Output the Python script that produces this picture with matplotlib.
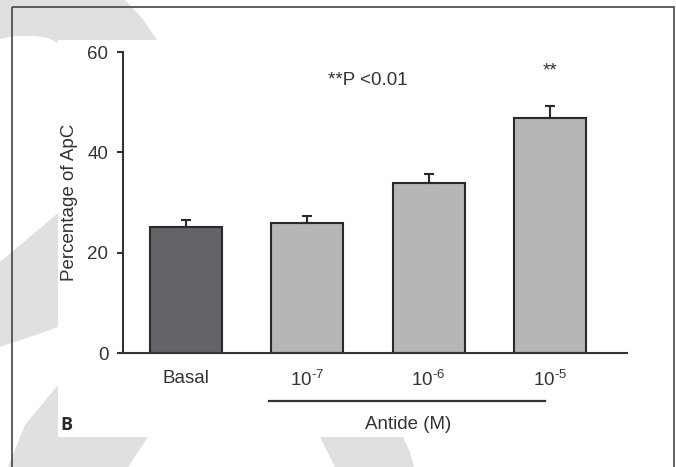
import numpy as np
import matplotlib
matplotlib.use('Agg')
import matplotlib.pyplot as plt
from matplotlib.patches import Polygon, Rectangle
from matplotlib.transforms import blended_transform_factory

plt.rcParams['font.family'] = ['Liberation Sans', 'DejaVu Sans']
plt.rcParams['mathtext.fontset'] = 'custom'
plt.rcParams['mathtext.rm'] = 'Liberation Sans'
plt.rcParams['mathtext.it'] = 'Liberation Sans:italic'

# data
groups = ['Basal', '$\\mathregular{10^{\u20107}}$', '$\\mathregular{10^{\u20106}}$', '$\\mathregular{10^{\u20105}}$']
values = [25.1, 25.9, 33.8, 46.9]
errors = [1.4, 1.4, 1.9, 2.4]
colors = ['#636468', '#b5b6b8', '#b5b6b8', '#b5b6b8']
yticks = [0, 20, 40, 60]

txt = '#333333'
fs = 13.5
W, H = 676, 467
fig = plt.figure(figsize=(W / 100, H / 100), dpi=100)

# background decoration (watermark shapes + frame), pixel coordinates
bg = fig.add_axes([0, 0, 1, 1], zorder=-1)
bg.set_xlim(0, W)
bg.set_ylim(H, 0)
bg.axis('off')
shade = '#dfe0e2'
shapes = [
    [(0, 0), (125, 0), (142, 18), (157, 40), (58, 40), (58, 43), (48, 38), (35, 36), (15, 36), (0, 39)],
    [(0, 262), (58, 213), (58, 327), (30, 337), (0, 347)],
    [(58, 385), (58, 437), (148, 437), (128, 467), (8, 467), (25, 425)],
    [(320, 437), (403, 437), (410, 452), (414, 467), (335, 467)],
]
for s in shapes:
    bg.add_patch(Polygon(s, closed=True, fc=shade, ec='none'))
bg.add_patch(Rectangle((12, 7), 662, 470, fc='none', ec='#444444', lw=1.2))

# main axes
ax = fig.add_axes([123 / W, 1 - 353 / H, (627 - 123) / W, (353 - 52) / H])
ax.patch.set_alpha(0)
x = np.arange(len(values))
ax.bar(x, values, width=0.594, color=colors, edgecolor='#2a2a2a', linewidth=1.5, zorder=2)
ax.errorbar(x, values, yerr=[np.zeros(len(errors)), errors], fmt='none',
            ecolor='#2a2a2a', elinewidth=1.5, capsize=3.8, capthick=1.5, zorder=3)

ax.set_xlim(-0.519, 3.636)
ax.set_ylim(0, 60)
ax.set_yticks(yticks)
ax.set_xticks(x)
ax.set_xticklabels(groups)
for side in ['top', 'right']:
    ax.spines[side].set_visible(False)
for side in ['left', 'bottom']:
    ax.spines[side].set_linewidth(1.5)
    ax.spines[side].set_color('#333333')
ax.tick_params(axis='y', length=4.5, width=1.5, color='#333333', pad=6, labelsize=fs, labelcolor=txt)
ax.tick_params(axis='x', length=0, pad=12, labelsize=fs, labelcolor=txt)
ax.set_ylabel('Percentage of ApC', fontsize=fs, color=txt, labelpad=7)

ax.text(1.5, 54.4, '**P <0.01', ha='center', va='center', fontsize=fs, color=txt)
ax.text(3.0, 56.2, '**', ha='center', va='center', fontsize=fs, color=txt)

tr = blended_transform_factory(ax.transData, ax.transAxes)
ax.plot([0.684, 2.96], [-0.159, -0.159], color='#333333', lw=1.6, transform=tr, clip_on=False)
ax.text(1.83, -0.239, 'Antide (M)', ha='center', va='center', fontsize=fs, color=txt, transform=tr)

fig.text(60 / W, 1 - 425 / H, 'B', ha='left', va='center', fontsize=13,
         fontweight='bold', color='#2a2a2a', family=['Open Sans', 'DejaVu Sans'])

fig.savefig('out.png', dpi=100)
